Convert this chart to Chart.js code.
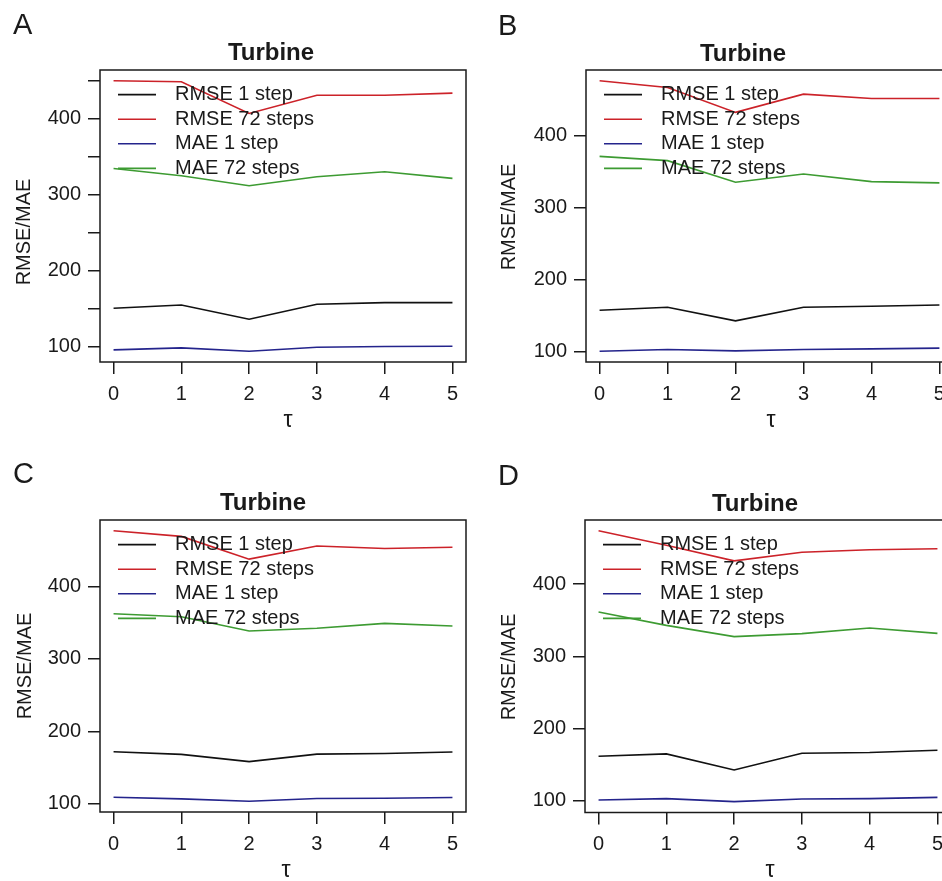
<!DOCTYPE html>
<html>
<head>
<meta charset="utf-8">
<script src="https://cdn.jsdelivr.net/npm/chart.js@4.4.1/dist/chart.umd.min.js"></script>
<style>
  html, body { margin: 0; padding: 0; background: #fff; overflow: hidden; }
  body { width: 942px; height: 881px; position: relative; }
  canvas { position: absolute; }
</style>
</head>
<body>
<canvas id="panelA" width="500" height="440" style="left:0;top:0"></canvas>
<canvas id="panelB" width="500" height="440" style="left:471px;top:0"></canvas>
<canvas id="panelC" width="500" height="440" style="left:0;top:440px"></canvas>
<canvas id="panelD" width="500" height="440" style="left:471px;top:440px"></canvas>
<script>
// ===== data =====
const TAU = [0, 1, 2, 3, 4, 5];
const SERIES_LABELS = ['RMSE 1 step', 'RMSE 72 steps', 'MAE 1 step', 'MAE 72 steps'];
const TITLE = 'Turbine';
const Y_TITLE = 'RMSE/MAE';
const X_TITLE = 'τ';

const A_RMSE_1 = [150.4, 154.8, 136.0, 155.7, 157.9, 157.9];
const A_RMSE_72 = [450.0, 448.7, 407.0, 431.0, 431.0, 433.8];
const A_MAE_1 = [95.6, 98.2, 93.9, 99.1, 100.0, 100.4];
const A_MAE_72 = [334.6, 325.0, 311.8, 323.7, 330.3, 321.5];

const B_RMSE_1 = [157.3, 161.4, 142.5, 161.4, 162.8, 164.7];
const B_RMSE_72 = [476.3, 467.0, 432.4, 457.8, 451.8, 451.8];
const B_MAE_1 = [100.4, 102.7, 100.9, 102.7, 103.6, 104.6];
const B_MAE_72 = [371.3, 365.3, 335.3, 346.8, 336.2, 334.4];

const C_RMSE_1 = [171.8, 168.2, 158.2, 168.6, 169.5, 171.4];
const C_RMSE_72 = [476.8, 469.1, 437.7, 455.9, 452.3, 454.1];
const C_MAE_1 = [109.1, 106.8, 103.6, 107.3, 107.7, 108.6];
const C_MAE_72 = [362.3, 358.2, 338.6, 342.3, 349.1, 345.5];

const D_RMSE_1 = [161.6, 164.8, 142.6, 165.7, 166.7, 169.9];
const D_RMSE_72 = [474.0, 454.0, 432.4, 444.4, 447.7, 449.1];
const D_MAE_1 = [100.9, 102.8, 98.6, 102.3, 102.8, 104.6];
const D_MAE_72 = [361.6, 343.0, 327.4, 331.5, 339.4, 331.9];

const Y_TICKS_FINE = [100, 150, 200, 250, 300, 350, 400, 450];
const Y_TICKS = [100, 200, 300, 400];

// ===== style =====
const INK = '#1a1a1a';
const FONT = "'Liberation Sans', Arial, Helvetica, sans-serif";
const SERIES_COLORS = ['#111111', '#cc2229', '#24248c', '#3d9b32'];
const Y_AXIS_W = 70;
const X_AXIS_H = 50;

// chart area + text anchors per panel, canvas coordinates
const LAYOUT = {
    A: { area: [100, 70, 466, 362], letter: [13, 34], title: [271, 60], yTitle: [30, 232], xTitle: [288, 427] },
    B: { area: [115, 70, 482, 362], letter: [27, 35], title: [272, 61], yTitle: [44, 217], xTitle: [300, 427] },
    C: { area: [100, 80, 466, 372], letter: [13, 43], title: [263, 70], yTitle: [31, 226], xTitle: [286, 437] },
    D: { area: [114, 80, 480, 372.5], letter: [27, 45], title: [284, 71], yTitle: [44, 227], xTitle: [299, 437] }
};

// R-like frame, legend and labels
const rFrame = {
    id: 'rFrame',
    afterDatasetsDraw(chart) {
        const { ctx, chartArea: a } = chart;
        ctx.save();
        ctx.strokeStyle = INK;
        ctx.lineWidth = 1.5;
        ctx.strokeRect(a.left, a.top, a.right - a.left, a.bottom - a.top);

        ctx.font = `20px ${FONT}`;
        ctx.textBaseline = 'middle';
        ctx.textAlign = 'left';
        chart.data.datasets.forEach((ds, i) => {
            const y = a.top + 24.6 + i * 24.6;
            ctx.strokeStyle = ds.borderColor;
            ctx.lineWidth = 1.6;
            ctx.beginPath();
            ctx.moveTo(a.left + 18, y);
            ctx.lineTo(a.left + 56, y);
            ctx.stroke();
            ctx.fillStyle = INK;
            ctx.fillText(ds.label, a.left + 75, y);
        });
        ctx.restore();
    },
    afterDraw(chart, args, opts) {
        const { ctx } = chart;
        const lay = opts.layout;
        ctx.save();
        ctx.fillStyle = INK;
        ctx.textBaseline = 'alphabetic';

        ctx.font = `29px ${FONT}`;
        ctx.textAlign = 'left';
        ctx.fillText(opts.letter, lay.letter[0], lay.letter[1]);

        ctx.font = `bold 24px ${FONT}`;
        ctx.textAlign = 'center';
        ctx.fillText(TITLE, lay.title[0], lay.title[1]);

        ctx.font = `23px ${FONT}`;
        ctx.fillText(X_TITLE, lay.xTitle[0], lay.xTitle[1]);

        ctx.font = `20px ${FONT}`;
        ctx.translate(lay.yTitle[0], lay.yTitle[1]);
        ctx.rotate(-Math.PI / 2);
        ctx.fillText(Y_TITLE, 0, 0);
        ctx.restore();
    }
};

function createPanel(canvasId, letter, series, yTicks) {
    const lay = LAYOUT[letter];
    const [l, t, r, b] = lay.area;
    const canvas = document.getElementById(canvasId);

    // R default axis range: data range plus 4% each side
    const all = series.flat();
    const yLo = Math.min(...all), yHi = Math.max(...all);
    const yPad = (yHi - yLo) * 0.04;
    const xPad = (TAU[TAU.length - 1] - TAU[0]) * 0.04;

    const axisBase = {
        grid: { drawOnChartArea: false, drawTicks: true, tickLength: 12, color: INK, lineWidth: 1.5 },
        border: { display: false },
        ticks: { color: INK, font: { family: FONT, size: 20 }, padding: 7 }
    };

    return new Chart(canvas.getContext('2d'), {
        type: 'line',
        data: {
            datasets: series.map((vals, i) => ({
                label: SERIES_LABELS[i],
                data: TAU.map((x, j) => ({ x, y: vals[j] })),
                borderColor: SERIES_COLORS[i],
                borderWidth: 1.6,
                pointRadius: 0,
                tension: 0,
                fill: false
            }))
        },
        options: {
            responsive: false,
            animation: false,
            events: [],
            layout: {
                padding: { left: l - Y_AXIS_W, top: t, right: canvas.width - r, bottom: canvas.height - b - X_AXIS_H }
            },
            plugins: {
                legend: { display: false },
                tooltip: { enabled: false },
                title: { display: false },
                rFrame: { letter, layout: lay }
            },
            scales: {
                x: {
                    ...axisBase,
                    type: 'linear',
                    min: TAU[0] - xPad,
                    max: TAU[TAU.length - 1] + xPad,
                    ticks: { ...axisBase.ticks, padding: 8, maxRotation: 0 },
                    afterBuildTicks: s => { s.ticks = TAU.map(v => ({ value: v })); },
                    afterFit: s => { s.height = X_AXIS_H; s.paddingLeft = s.paddingRight = 0; }
                },
                y: {
                    ...axisBase,
                    type: 'linear',
                    min: yLo - yPad,
                    max: yHi + yPad,
                    ticks: { ...axisBase.ticks, callback: v => (v % 100 === 0 ? String(v) : '') },
                    afterBuildTicks: s => { s.ticks = yTicks.map(v => ({ value: v })); },
                    afterFit: s => { s.width = Y_AXIS_W; s.paddingTop = s.paddingBottom = 0; }
                }
            }
        },
        plugins: [rFrame]
    });
}

createPanel('panelA', 'A', [A_RMSE_1, A_RMSE_72, A_MAE_1, A_MAE_72], Y_TICKS_FINE);
createPanel('panelB', 'B', [B_RMSE_1, B_RMSE_72, B_MAE_1, B_MAE_72], Y_TICKS);
createPanel('panelC', 'C', [C_RMSE_1, C_RMSE_72, C_MAE_1, C_MAE_72], Y_TICKS);
createPanel('panelD', 'D', [D_RMSE_1, D_RMSE_72, D_MAE_1, D_MAE_72], Y_TICKS);
</script>
</body>
</html>
